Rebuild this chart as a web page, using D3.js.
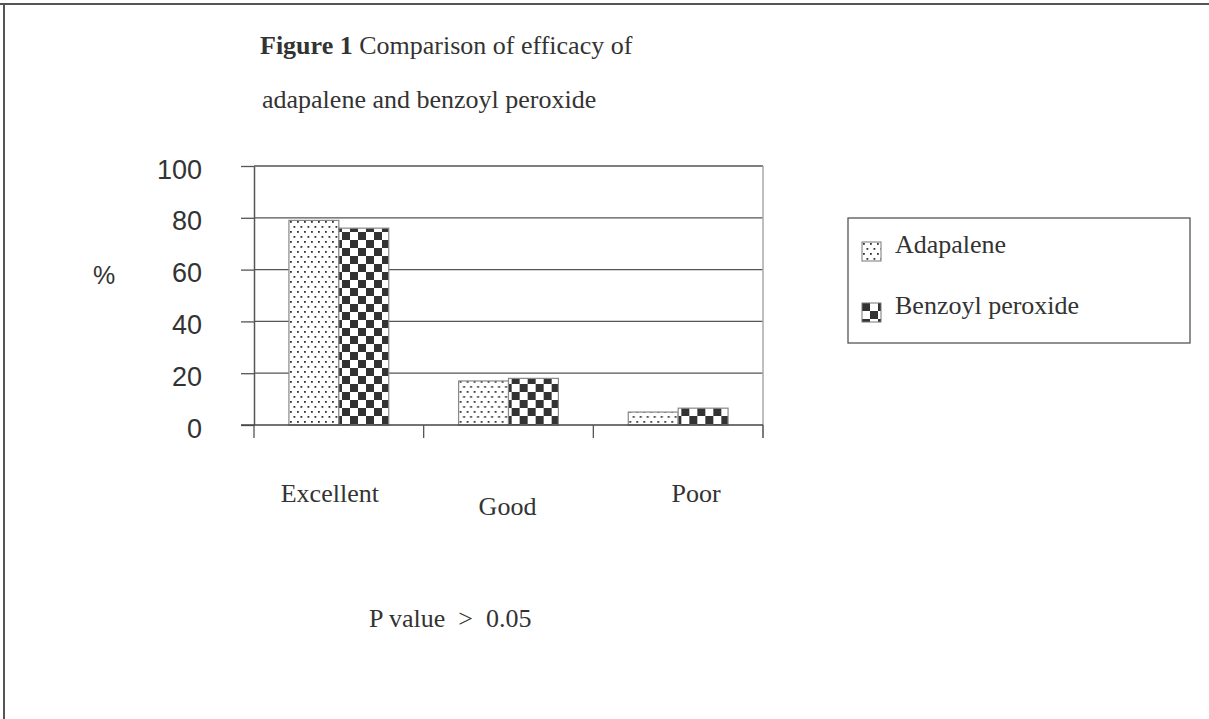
<!DOCTYPE html>
<html>
<head>
<meta charset="utf-8">
<script src="https://cdn.jsdelivr.net/npm/d3@7"></script>
<style>
  body { margin: 0; background: #fff; }
  text { fill: #333; }
  .serif { font-family: "Liberation Serif", "Times New Roman", serif; font-size: 26px; }
  .sans { font-family: "Liberation Sans", Arial, sans-serif; font-size: 25px; }
  .tick-label { font-family: "Liberation Sans", Arial, sans-serif; font-size: 27px; }
</style>
</head>
<body>
<div id="chart"></div>
<script>
const categories = ['Excellent', 'Good', 'Poor'];
const series = ['Adapalene', 'Benzoyl peroxide'];
const adapalene = [79, 17, 5];
const benzoyl = [76, 18, 6.5];
const yTicks = [0, 20, 40, 60, 80, 100];

// label nudges seen in the original layout
const catLabelDx = [-9, -1, 18];
const catLabelY = [502, 515, 502];

const width = 1209, height = 719;
const plot = { left: 254, right: 763, top: 166, bottom: 425 };

const svg = d3.select('#chart').append('svg')
  .attr('width', width)
  .attr('height', height);

const defs = svg.append('defs');

// dotted fill
const dots = defs.append('pattern')
  .attr('id', 'dots')
  .attr('patternUnits', 'userSpaceOnUse')
  .attr('width', 7)
  .attr('height', 10);
dots.append('rect').attr('width', 7).attr('height', 10).attr('fill', '#fff');
dots.append('rect').attr('x', 1).attr('y', 1).attr('width', 1.8).attr('height', 1.8).attr('fill', '#333');
dots.append('rect').attr('x', 4.5).attr('y', 6).attr('width', 1.8).attr('height', 1.8).attr('fill', '#333');

// checkerboard fill
const checker = defs.append('pattern')
  .attr('id', 'checker')
  .attr('patternUnits', 'userSpaceOnUse')
  .attr('width', 16)
  .attr('height', 16);
checker.append('rect').attr('width', 16).attr('height', 16).attr('fill', '#fff');
checker.append('rect').attr('width', 8).attr('height', 8).attr('fill', '#333');
checker.append('rect').attr('x', 8).attr('y', 8).attr('width', 8).attr('height', 8).attr('fill', '#333');

const fills = { 'Adapalene': 'url(#dots)', 'Benzoyl peroxide': 'url(#checker)' };

// page frame (top and left only)
svg.append('line').attr('x1', 0).attr('x2', width).attr('y1', 4).attr('y2', 4)
  .attr('stroke', '#555').attr('stroke-width', 2);
svg.append('line').attr('x1', 4).attr('x2', 4).attr('y1', 3).attr('y2', height)
  .attr('stroke', '#555').attr('stroke-width', 2);

// title
const title = svg.append('text').attr('class', 'serif').attr('x', 260).attr('y', 54);
title.append('tspan').attr('font-weight', 'bold').text('Figure 1');
title.append('tspan').text(' Comparison of efficacy of');
svg.append('text').attr('class', 'serif').attr('x', 262).attr('y', 108)
  .text('adapalene and benzoyl peroxide');

const x0 = d3.scaleBand().domain(categories).range([plot.left, plot.right]).padding(0);
const x1 = d3.scaleBand().domain(series).range([0, x0.bandwidth()])
  .paddingInner(0).paddingOuter(0.7);
const y = d3.scaleLinear().domain([0, 100]).range([plot.bottom, plot.top]);

// gridlines
svg.append('g').selectAll('line').data(yTicks.filter(d => d > 0)).join('line')
  .attr('x1', plot.left).attr('x2', plot.right)
  .attr('y1', d => y(d)).attr('y2', d => y(d))
  .attr('stroke', '#555').attr('stroke-width', 1.3);

// right plot border
svg.append('line').attr('x1', plot.right).attr('x2', plot.right)
  .attr('y1', plot.top).attr('y2', plot.bottom + 13)
  .attr('stroke', '#aaa').attr('stroke-width', 1.5);

// bars
const rows = categories.map((c, i) => ({ cat: c, vals: [adapalene[i], benzoyl[i]] }));
const groups = svg.append('g').selectAll('g').data(rows).join('g')
  .attr('transform', d => `translate(${x0(d.cat)},0)`);
groups.selectAll('rect')
  .data(d => d.vals.map((v, j) => ({ s: series[j], v })))
  .join('rect')
  .attr('x', d => x1(d.s))
  .attr('y', d => y(d.v))
  .attr('width', x1.bandwidth())
  .attr('height', d => y(0) - y(d.v))
  .attr('fill', d => fills[d.s])
  .attr('stroke', '#888')
  .attr('stroke-width', 1.2);

// y axis
const yAxis = svg.append('g').attr('transform', `translate(${plot.left},0)`)
  .call(d3.axisLeft(y).tickValues(yTicks).tickSize(13).tickSizeOuter(0).tickPadding(39));
yAxis.attr('font-family', null).attr('font-size', null);
yAxis.select('.domain').attr('stroke', '#555').attr('stroke-width', 1.5);
yAxis.selectAll('.tick line').attr('stroke', '#555').attr('stroke-width', 1.3);
yAxis.selectAll('.tick text')
  .attr('class', 'tick-label')
  .attr('dy', '0.45em')
  .style('fill', '#333');

svg.append('text').attr('class', 'sans').attr('x', 93).attr('y', 284).text('%');

// x axis baseline and category ticks
svg.append('line').attr('x1', plot.left - 13).attr('x2', plot.right)
  .attr('y1', y(0)).attr('y2', y(0))
  .attr('stroke', '#444').attr('stroke-width', 1.5);
const tickXs = categories.map(c => x0(c)).concat([plot.right]);
svg.append('g').selectAll('line').data(tickXs).join('line')
  .attr('x1', d => d).attr('x2', d => d)
  .attr('y1', y(0)).attr('y2', y(0) + 13)
  .attr('stroke', '#555').attr('stroke-width', 1.3);

svg.append('g').selectAll('text').data(categories).join('text')
  .attr('class', 'serif')
  .attr('text-anchor', 'middle')
  .attr('x', (d, i) => x0(d) + x0.bandwidth() / 2 + catLabelDx[i])
  .attr('y', (d, i) => catLabelY[i])
  .text(d => d);

// p value note
svg.append('text').attr('class', 'serif').attr('x', 369).attr('y', 627)
  .attr('xml:space', 'preserve').style('white-space', 'pre')
  .text('P value  >  0.05');

// legend
const legend = svg.append('g');
legend.append('rect').attr('x', 848).attr('y', 218).attr('width', 342).attr('height', 125)
  .attr('fill', '#fff').attr('stroke', '#555').attr('stroke-width', 1.3);
const items = legend.selectAll('g').data(series).join('g')
  .attr('transform', (d, i) => `translate(862,${242 + i * 61})`);
items.append('rect').attr('width', 19).attr('height', 19)
  .attr('fill', d => fills[d]).attr('stroke', '#777').attr('stroke-width', 1);
items.append('text').attr('class', 'serif').attr('x', 33).attr('y', 11).text(d => d);
</script>
</body>
</html>
